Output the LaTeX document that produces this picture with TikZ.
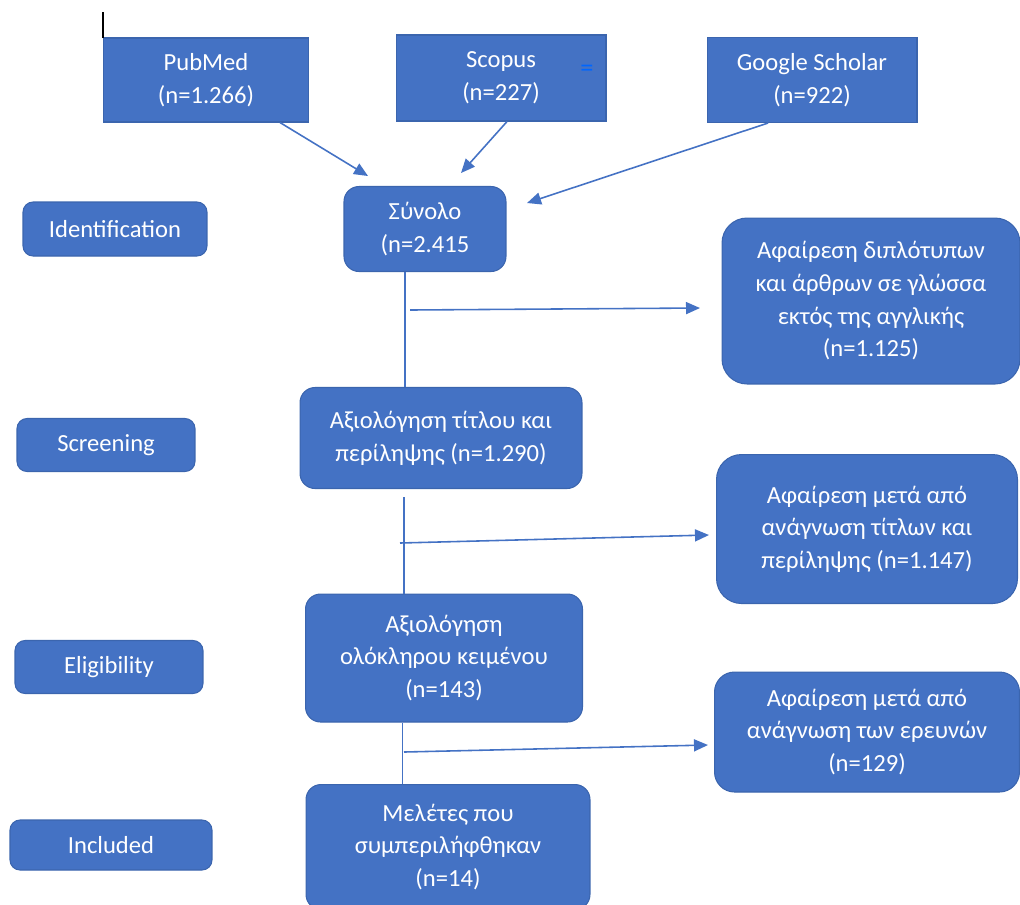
\documentclass[tikz,border=0pt]{standalone}
\usepackage{fontspec}
\setmainfont{Carlito}
\usepackage{xcolor}
\usetikzlibrary{arrows.meta}
\definecolor{offblue}{HTML}{4472C4}
\definecolor{offedge}{HTML}{3B65AE}

\begin{document}
\begin{tikzpicture}[x=0.02cm,y=-0.02cm,
  box/.style={draw=offedge,line width=0.6pt,fill=offblue,text=white,align=center,
    font=\fontsize{14}{18.6}\selectfont,inner sep=0pt},
  rbox/.style={box,rounded corners=0.3cm},
  tag/.style={rbox,rounded corners=0.2cm},
  arr/.style={-{Triangle[length=0.28cm,width=0.24cm]},draw=offblue,line width=0.9pt},
  link/.style={draw=offblue,line width=0.9pt}]
  \useasboundingbox (0,0) rectangle (1020,904);
  % Sources
  \node[box,minimum width=4.1cm,minimum height=1.68cm] (pubmed) at (206,80) {PubMed\\(n=1.266)};
  \node[box,minimum width=4.2cm,minimum height=1.72cm] (scopus) at (501,78) {Scopus\\(n=227)};
  \node[box,minimum width=4.2cm,minimum height=1.7cm] (scholar) at (812,80) {Google Scholar\\(n=922)};
  \node[text=blue!60!cyan,font=\fontsize{15}{15}\selectfont] (mark) at (587,71) {=};
  \draw[black,line width=1.2pt] (103,12) -- (103,38);
  % Total
  \node[rbox,minimum width=3.24cm,minimum height=1.7cm] (total) at (425,229) {Σύνολο\\(n=2.415};
  \coordinate (t1) at (368,176);
  \coordinate (t2) at (461,173);
  \coordinate (t3) at (527,203);
  \draw[arr] ([xshift=1.48cm]pubmed.south) -- (t1);
  \draw[arr] ([xshift=0.12cm]scopus.south) -- (t2);
  \draw[arr] ([xshift=-0.88cm]scholar.south) -- (t3);
  % Stage labels
  \node[tag,minimum width=3.68cm,minimum height=1.08cm] (identlbl) at (115,229) {Identification};
  \node[tag,minimum width=3.56cm,minimum height=1.06cm] (screenlbl) at (106,445) {Screening};
  \node[tag,minimum width=3.76cm,minimum height=1.06cm] (eliglbl) at (109,667) {Eligibility};
  \node[tag,minimum width=4.04cm,minimum height=1.0cm] (incllbl) at (111,845) {Included};
  % Main flow
  \node[rbox,minimum width=5.64cm,minimum height=2.02cm] (screen) at (441,438) {Αξιολόγηση τίτλου και\\περίληψης (n=1.290)};
  \node[rbox,minimum width=5.54cm,minimum height=2.56cm] (full) at (444,658) {Αξιολόγηση\\ολόκληρου κειμένου\\(n=143)};
  \node[rbox,minimum width=5.68cm,minimum height=2.5cm] (incl) at (448,847) {Μελέτες που\\συμπεριλήφθηκαν\\(n=14)};
  % Exclusions
  \node[rbox,rounded corners=0.5cm,minimum width=5.96cm,minimum height=3.32cm] (dupl) at (871,301) {Αφαίρεση διπλότυπων\\και άρθρων σε γλώσσα\\εκτός της αγγλικής\\(n=1.125)};
  \node[rbox,rounded corners=0.5cm,minimum width=6.02cm,minimum height=2.98cm] (titles) at (867,529) {Αφαίρεση μετά από\\ανάγνωση τίτλων και\\περίληψης (n=1.147)};
  \node[rbox,rounded corners=0.4cm,minimum width=6.1cm,minimum height=2.4cm] (studies) at (867,732) {Αφαίρεση μετά από\\ανάγνωση των ερευνών\\(n=129)};
  % Vertical links
  \draw[link] ([xshift=-0.4cm]total.south) -- ([xshift=-0.4cm]total.south |- screen.north);
  \coordinate (v2) at (404,497);
  \draw[link] (v2) -- (v2 |- full.north);
  \draw[link] ([xshift=-0.83cm]full.south) -- ([xshift=-0.83cm]full.south |- incl.north);
  % Side arrows
  \coordinate (b1) at (410,310);
  \coordinate (e1) at (700,308);
  \coordinate (b2) at (400,543);
  \coordinate (e2) at (709,535);
  \coordinate (b3) at (404,752);
  \coordinate (e3) at (708,745);
  \draw[arr] (b1) -- (e1);
  \draw[arr] (b2) -- (e2);
  \draw[arr] (b3) -- (e3);
\end{tikzpicture}
\end{document}
